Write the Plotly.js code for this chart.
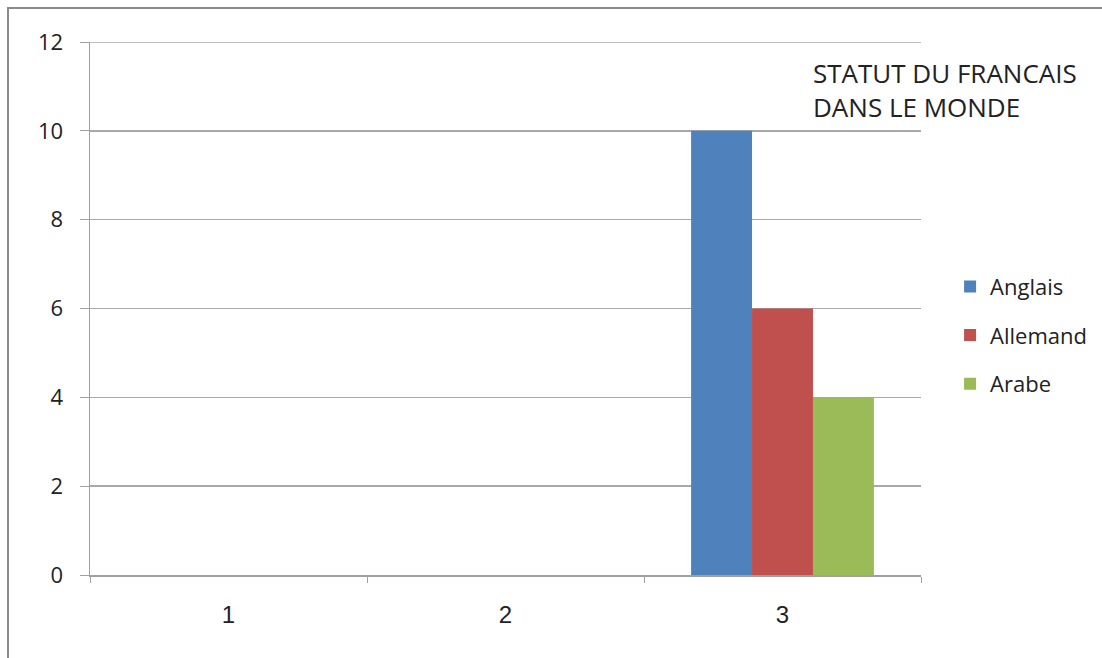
<!DOCTYPE html>
<html>
<head>
<meta charset="utf-8">
<script src="https://cdn.plot.ly/plotly-3.0.1.min.js"></script>
<style>
html,body{margin:0;padding:0;background:#fff;}
#wrap{position:relative;width:1102px;height:658px;overflow:hidden;}
#chart{position:absolute;left:0;top:0;width:1102px;height:658px;}
#frame{position:absolute;left:7px;top:7px;width:1200px;height:700px;border-left:2px solid #8a8a8a;border-top:2px solid #8a8a8a;pointer-events:none;}
</style>
</head>
<body>
<div id="wrap">
<div id="chart"></div>
<div id="frame"></div>
</div>
<script>
const categories = ['1', '2', '3'];
const seriesNames = ['Anglais', 'Allemand', 'Arabe'];
const anglais = [0, 0, 10];
const allemand = [0, 0, 6];
const arabe = [0, 0, 4];
const yTicks = [0, 2, 4, 6, 8, 10, 12];
const yMax = 12;
const chartTitle = 'STATUT DU FRANCAIS<br>DANS LE MONDE';

const colors = ['#4F81BD', '#C0504D', '#9BBB59'];
const values = [anglais, allemand, arabe];

const traces = seriesNames.map((name, i) => ({
  type: 'bar',
  name: name,
  x: categories,
  y: values[i],
  marker: {color: colors[i], line: {width: 0}},
  legendgroup: 'g' + i,
  hoverinfo: 'x+y+name'
}));

const layout = {
  width: 1102,
  height: 658,
  margin: {l: 90, r: 181, t: 42, b: 83, autoexpand: false},
  paper_bgcolor: '#ffffff',
  plot_bgcolor: '#ffffff',
  barmode: 'group',
  bargap: 0.34,
  bargroupgap: 0,
  showlegend: true,
  legend: {
    x: 1.035, xanchor: 'left',
    y: 0.45, yanchor: 'middle',
    font: {family: 'Open Sans, sans-serif', size: 22, color: '#222'},
    traceorder: 'grouped',
    tracegroupgap: 17,
    bgcolor: 'rgba(0,0,0,0)',
    itemwidth: 30
  },
  xaxis: {
    type: 'category',
    categoryarray: categories,
    tickson: 'boundaries',
    ticks: 'outside',
    ticklen: 6,
    tickcolor: '#a0a0a0',
    showline: true,
    linecolor: '#a0a0a0',
    linewidth: 1.5,
    showgrid: false,
    zeroline: false,
    tickfont: {family: 'Liberation Sans Narrow, Arial Narrow, sans-serif', size: 24, color: '#222'},
    ticklabelstandoff: 18,
    fixedrange: true
  },
  yaxis: {
    range: [0, yMax],
    tickvals: yTicks,
    ticktext: yTicks.map(String),
    ticks: 'outside',
    ticklen: 9,
    tickcolor: '#a0a0a0',
    showline: true,
    linecolor: '#a0a0a0',
    linewidth: 1.5,
    showgrid: true,
    gridcolor: '#a8a8a8',
    gridwidth: 1.5,
    zeroline: false,
    tickfont: {family: 'Open Sans, sans-serif', size: 22, color: '#222'},
    ticklabelstandoff: 12,
    fixedrange: true
  },
  shapes: [{
    type: 'line', xref: 'paper', yref: 'y',
    x0: 0, x1: 1, y0: yMax, y1: yMax,
    line: {color: '#a8a8a8', width: 1.5}
  }],
  annotations: [{
    xref: 'paper', yref: 'paper',
    x: 0.868, y: 0.98,
    xanchor: 'left', yanchor: 'top',
    align: 'left',
    showarrow: false,
    text: chartTitle,
    font: {family: 'Open Sans, sans-serif', size: 26, color: '#222'}
  }]
};

Plotly.newPlot('chart', traces, layout, {displayModeBar: false, staticPlot: true});
</script>
</body>
</html>
